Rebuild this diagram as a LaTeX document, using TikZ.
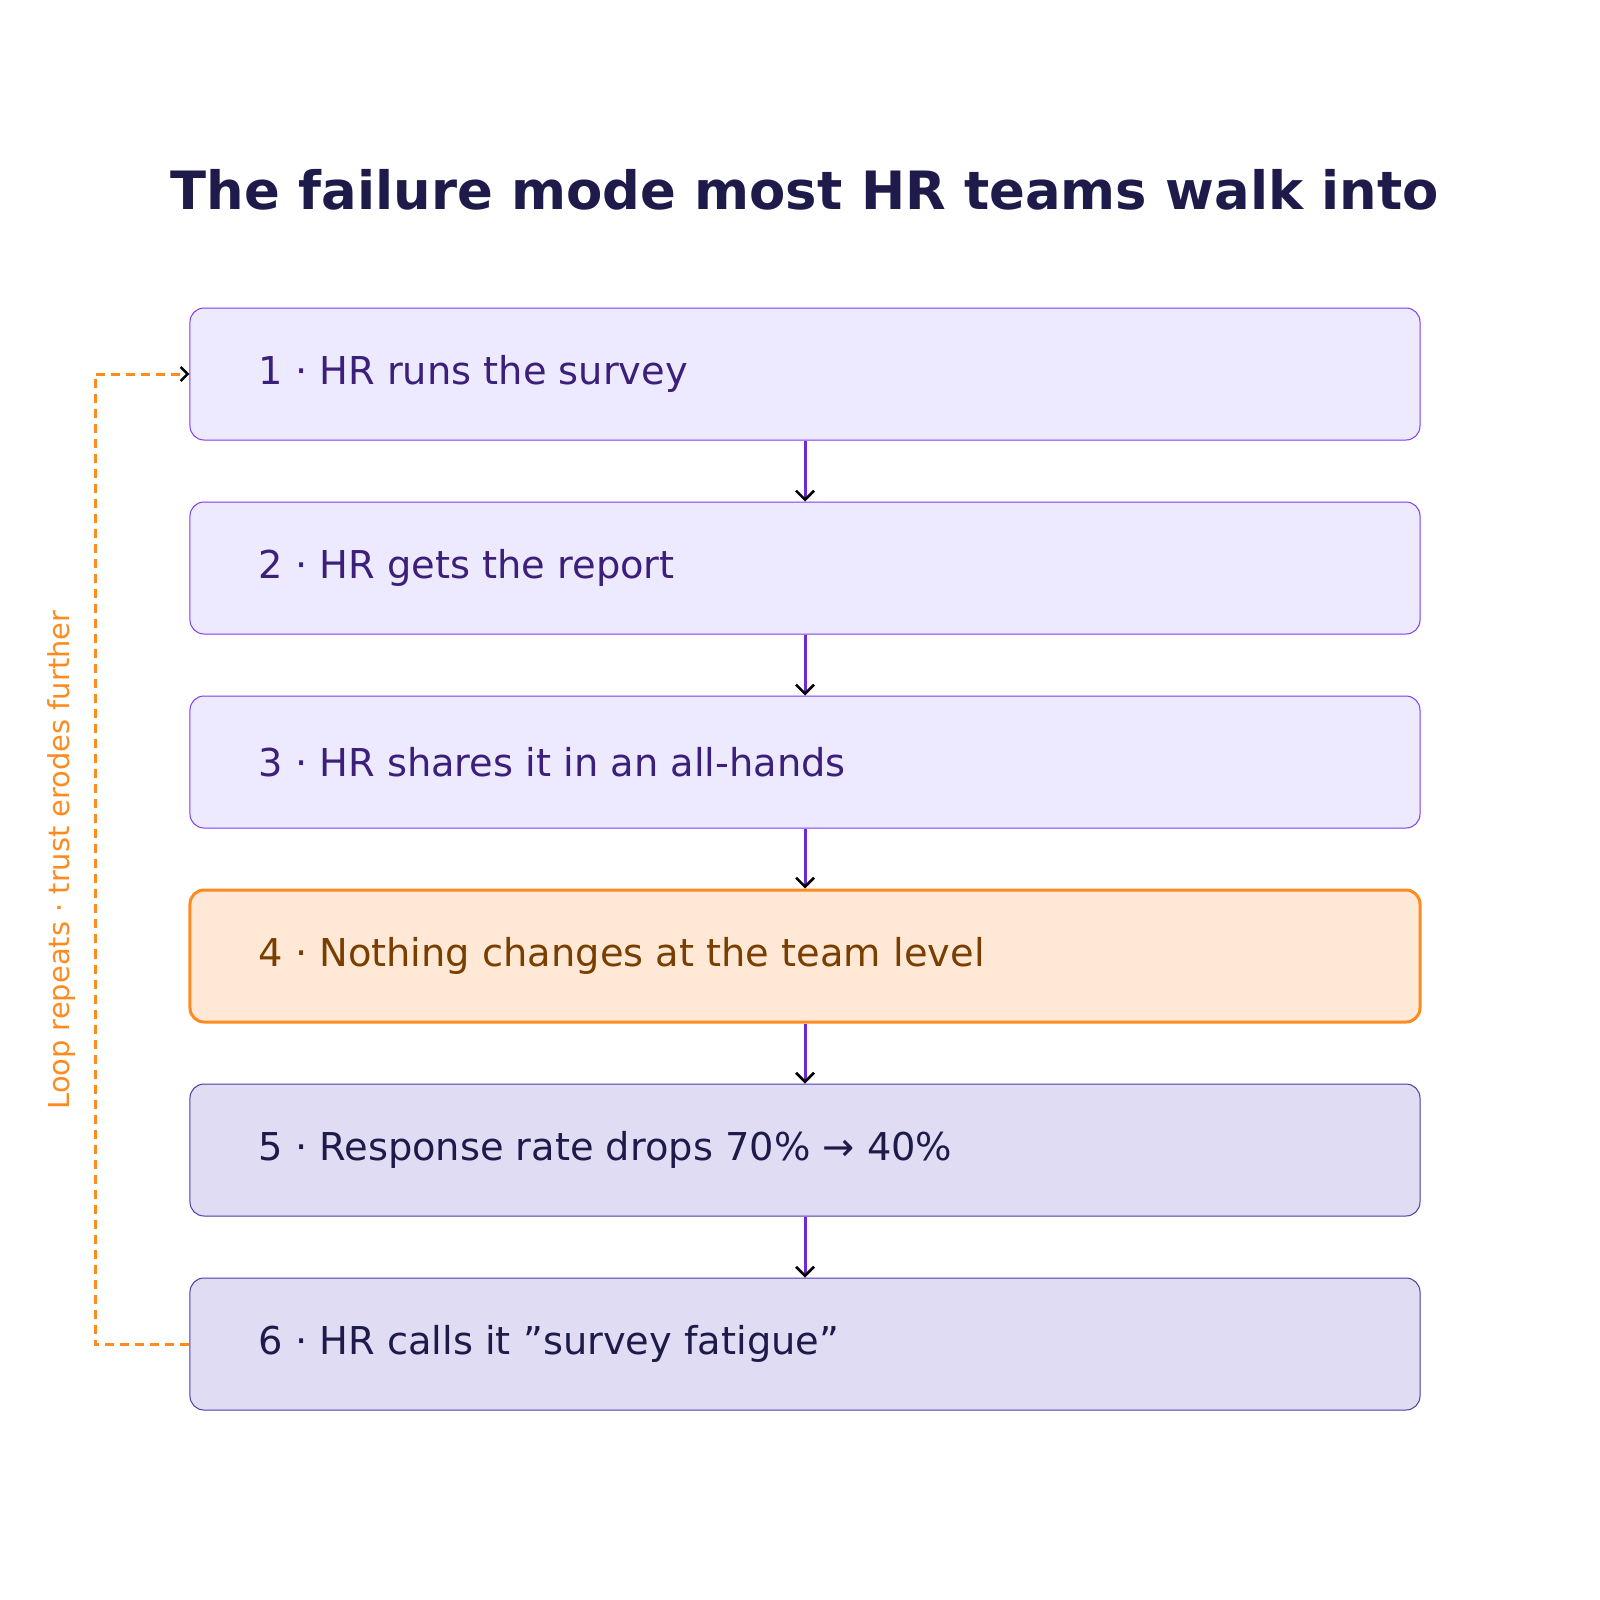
\documentclass[tikz,border=0pt]{standalone}
\usepackage{fontspec}
\setmainfont{DejaVu Sans}
\usetikzlibrary{arrows.meta}
\definecolor{titlec}{HTML}{1E1B4B}
\definecolor{pfill}{HTML}{EDE9FE}
\definecolor{pdraw}{HTML}{7C3AED}
\definecolor{ptext}{HTML}{3B1F7A}
\definecolor{ofill}{HTML}{FFE8D6}
\definecolor{odraw}{HTML}{FF8A1F}
\definecolor{otext}{HTML}{7A3E00}
\definecolor{dfill}{HTML}{E0DCF4}
\definecolor{ddraw}{HTML}{4C3AA8}
\definecolor{arr}{HTML}{6D28D9}
\begin{document}
\begin{tikzpicture}[x=1bp,y=-1bp,
  box/.style={rounded corners=14bp,minimum width=1230bp,minimum height=132bp,inner sep=0pt},
  b1/.style={box,fill=pfill,draw=pdraw,line width=1bp},
  b2/.style={box,fill=ofill,draw=odraw,line width=3bp},
  b3/.style={box,fill=dfill,draw=ddraw,line width=1bp},
  lab/.style={font=\fontsize{38.5}{44}\selectfont,anchor=west},
  flow/.style={draw=arr,line width=3bp,-{Straight Barb[black,length=9bp,width=18bp,line width=2.5bp]}},
  loop/.style={draw=odraw,line width=3bp,dash pattern=on 9bp off 6bp,-{Straight Barb[black,length=7bp,width=14bp,line width=2.5bp]}}]
\useasboundingbox (0,0) rectangle (1600,1600);
\node[font=\bfseries\fontsize{53}{60}\selectfont,text=titlec] (title) at (805,190) {The failure mode most HR teams walk into};
\node[b1] (n1) at (805,374) {};
\node[b1] (n2) at (805,568) {};
\node[b1] (n3) at (805,762) {};
\node[b2] (n4) at (805,956) {};
\node[b3] (n5) at (805,1150) {};
\node[b3] (n6) at (805,1344) {};
\node[lab,text=ptext] (t1) at (255,374) {1 · HR runs the survey};
\node[lab,text=ptext] (t2) at (255,568) {2 · HR gets the report};
\node[lab,text=ptext] (t3) at (255,762) {3 · HR shares it in an all-hands};
\node[lab,text=otext] (t4) at (255,956) {4 · Nothing changes at the team level};
\node[lab,text=titlec] (t5) at (255,1150) {5 · Response rate drops 70\% → 40\%};
\node[lab,text=titlec] (t6) at (255,1344) {6 · HR calls it \symbol{34}survey fatigue\symbol{34}};
\draw[flow] (n1.south) -- (n2.north);
\draw[flow] (n2.south) -- (n3.north);
\draw[flow] (n3.south) -- (n4.north);
\draw[flow] (n4.south) -- (n5.north);
\draw[flow] (n5.south) -- (n6.north);
\coordinate (c1) at (95,1344);
\coordinate (c2) at (95,374);
\draw[loop] (n6.west) -- (c1) -- (c2) -- (n1.west);
\node[rotate=90,text=odraw,font=\fontsize{29}{34}\selectfont] (ll) at (62,860) {Loop repeats · trust erodes further};
\end{tikzpicture}
\end{document}
